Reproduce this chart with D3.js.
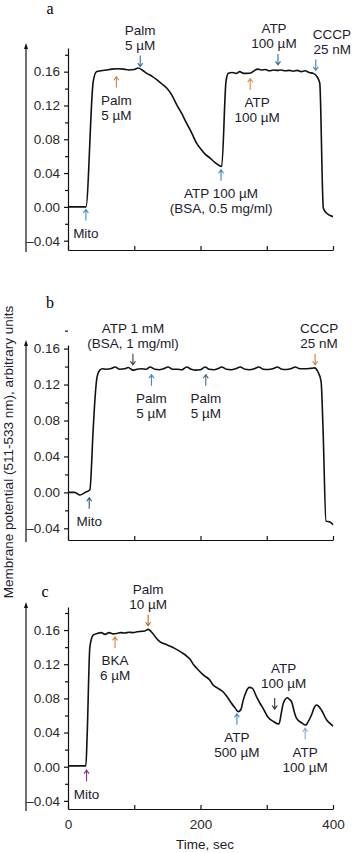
<!DOCTYPE html>
<html>
<head>
<meta charset="utf-8">
<title>Membrane potential traces</title>
<script src="https://cdnjs.cloudflare.com/ajax/libs/d3/7.8.5/d3.min.js"></script>
<style>
  body { margin: 0; background: #fff; }
  svg text { font-family: "Liberation Sans", Arial, sans-serif; }
</style>
</head>
<body>
<script>
// [time sec, membrane potential a.u.]
var traceA = [[0,0],[27,0],[38,0.148],[43,0.160],[50,0.161],[58,0.162],[66,0.163],[75,0.1635],[84,0.163],
  [92,0.162],[100,0.1625],[106,0.1644],[112,0.162],[119,0.158],[127,0.1545],[134,0.1505],[141,0.146],
  [149,0.1406],[157,0.132],[164,0.121],[172,0.110],[179,0.099],[187,0.087],[194,0.0755],[201,0.068],
  [207,0.0625],[214,0.058],[222,0.0525],[232,0.0478],[238.5,0.1485],[242,0.158],[248,0.159],[254,0.158],
  [259,0.160],[265,0.158],[271,0.158],[276,0.1585],[281,0.161],[286,0.163],[292,0.162],[298,0.1625],
  [304,0.161],[310,0.162],[316,0.1615],[322,0.162],[328,0.161],[334,0.1615],[340,0.1605],[346,0.1615],
  [352,0.160],[358,0.161],[364,0.159],[370,0.158],[375.5,0.1545],[380,0.1466],[385.4,-0.0016],
  [390.5,-0.0075],[400,-0.0115]];

var traceB = [[0,0],[10,0],[18,-0.003],[26,0],[33,0.003],[38,0.070],[41,0.107],[44,0.129],[48,0.136],
  [52,0.1375],[58,0.137],[64,0.1375],[71,0.1395],[78,0.137],[85,0.1375],[91,0.139],[98,0.136],[104,0.137],
  [111,0.1375],[118,0.137],[124,0.1395],[131,0.137],[138,0.1365],[144,0.1375],[151,0.1395],[158,0.137],
  [165,0.137],[172,0.1365],[179,0.1395],[186,0.137],[193,0.136],[200,0.1365],[207,0.1395],[213,0.137],
  [220,0.1365],[226,0.1375],[232,0.1395],[239,0.137],[246,0.1365],[253,0.1375],[260,0.1395],[267,0.137],
  [274,0.1365],[281,0.1375],[288,0.1395],[295,0.137],[302,0.1368],[309,0.1375],[316,0.1395],[323,0.137],
  [330,0.1368],[336,0.1375],[343,0.1395],[350,0.1375],[358,0.1375],[366,0.138],[372,0.1385],[377,0.1345],
  [382,0.1236],[385,0.070],[389.4,-0.032],[395.5,-0.033],[400,-0.036]];

var traceC = [[0,0.001],[27,0.001],[29,0.039],[33,0.140],[38,0.154],[44,0.156],[50,0.157],[56,0.155],
  [62,0.157],[68,0.1555],[74,0.156],[80,0.157],[86,0.1565],[92,0.1575],[98,0.157],[104,0.158],[110,0.1585],
  [116,0.159],[121,0.1608],[128,0.156],[135,0.149],[139,0.1463],[150,0.1425],[161,0.1386],[172,0.1335],
  [180,0.129],[184,0.126],[190,0.119],[197,0.113],[205,0.107],[214,0.1015],[219,0.0956],[226,0.092],
  [234,0.0878],[241,0.081],[247,0.074],[252,0.069],[257,0.0644],[261,0.067],[264.5,0.078],[269,0.088],
  [273.5,0.0929],[278,0.092],[284.5,0.082],[290,0.074],[294.5,0.0683],[302,0.0578],[310,0.053],
  [318.5,0.050],[322,0.063],[325,0.0742],[331,0.0808],[334,0.079],[337.5,0.076],[342,0.063],[345,0.0566],
  [352.5,0.0515],[359,0.0488],[362,0.052],[367.5,0.0605],[371,0.068],[375,0.0722],[378,0.071],
  [382.5,0.0664],[390.5,0.0547],[395,0.051],[400,0.0476]];

var yTicks = [-0.04, 0, 0.04, 0.08, 0.12, 0.16];
var yMinorTicks = [-0.02, 0.02, 0.06, 0.10, 0.14, 0.18];
var xTicks = [0, 100, 200, 300, 400];
var xTickLabels = [0, 200, 400];

// additions: time, signal at arrow tip, arrow direction, label lines
var notesA = [
  {t: 27, v: -0.003, dir: 'up', text: ['Mito']},
  {t: 73, v: 0.154, dir: 'up', text: ['Palm', '5 µM']},
  {t: 109, v: 0.166, dir: 'down', text: ['Palm', '5 µM']},
  {t: 231, v: 0.044, dir: 'up', text: ['ATP 100 µM', '(BSA, 0.5 mg/ml)']},
  {t: 275, v: 0.1517, dir: 'up', text: ['ATP', '100 µM']},
  {t: 317, v: 0.168, dir: 'down', text: ['ATP', '100 µM']},
  {t: 374, v: 0.1615, dir: 'down', text: ['CCCP', '25 nM']}
];
var notesB = [
  {t: 32, v: -0.006, dir: 'up', text: ['Mito']},
  {t: 98, v: 0.142, dir: 'down', text: ['ATP 1 mM', '(BSA, 1 mg/ml)']},
  {t: 126, v: 0.131, dir: 'up', text: ['Palm', '5 µM']},
  {t: 208, v: 0.131, dir: 'up', text: ['Palm', '5 µM']},
  {t: 373, v: 0.142, dir: 'down', text: ['CCCP', '25 nM']}
];
var notesC = [
  {t: 28, v: -0.004, dir: 'up', text: ['Mito']},
  {t: 71, v: 0.152, dir: 'up', text: ['BKA', '6 µM']},
  {t: 121, v: 0.165, dir: 'down', text: ['Palm', '10 µM']},
  {t: 255, v: 0.062, dir: 'up', text: ['ATP', '500 µM']},
  {t: 312, v: 0.0675, dir: 'down', text: ['ATP', '100 µM']},
  {t: 358, v: 0.045, dir: 'up', text: ['ATP', '100 µM']}
];

var arrowColorsA = ['#3d8fd0', '#d9813a', '#2f6fa8', '#3c86c4', '#e08a3c', '#2f6fa8', '#3b83c6'];
var arrowColorsB = ['#2a5a8a', '#4a3a30', '#3a8ac8', '#4a6a80', '#d4793a'];
var arrowColorsC = ['#8a2a8a', '#d9813a', '#b86a2a', '#3a8ad0', '#333333', '#7aaee0'];

var width = 352, height = 853;
var fontSize = '13.5px';
var svg = d3.select('body').append('svg')
  .attr('width', width)
  .attr('height', height);

var x = d3.scaleLinear().domain([0, 400]).range([68, 333]);

var panels = [
  {letter: 'a', lx: 50, ly: 14, trace: traceA, notes: notesA, colors: arrowColorsA,
   y: d3.scaleLinear().domain([-0.051, 0.188]).range([250, 48]), labels: false,
   nudge: {4: 7, 5: -4}},
  {letter: 'b', lx: 50, ly: 308, trace: traceB, notes: notesB, colors: arrowColorsB,
   y: d3.scaleLinear().domain([-0.053, 0.164]).range([540, 345]), labels: false,
   nudge: {4: 4}},
  {letter: 'c', lx: 45, ly: 597, trace: traceC, notes: notesC, colors: arrowColorsC,
   y: d3.scaleLinear().domain([-0.0495, 0.187]).range([809, 607]), labels: true,
   nudge: {4: 9}}
];

function fmt(d) {
  if (Math.abs(d) < 1e-9) return '0.00';
  return (d < 0 ? '\u2013' : '') + Math.abs(d).toFixed(2);
}

var line = d3.line()
  .x(function (d) { return x(d[0]); })
  .y(function (d) { return d[1]; })
  .curve(d3.curveMonotoneX);

panels.forEach(function (p) {
  var y = p.y;
  var bottom = y.range()[0], top = y.range()[1];
  var g = svg.append('g');

  g.append('text')
    .attr('x', p.lx).attr('y', p.ly)
    .attr('text-anchor', 'middle')
    .style('font-family', '"Liberation Serif", "Times New Roman", serif')
    .style('font-size', '16px')
    .text(p.letter);

  // long arrow left of the tick labels
  g.append('line')
    .attr('x1', 26).attr('x2', 26)
    .attr('y1', bottom + 2).attr('y2', top - 2)
    .attr('stroke', '#111').attr('stroke-width', 1.2);
  g.append('path')
    .attr('d', 'M26,' + (top - 5) + 'l-2,6h4z')
    .attr('fill', '#111');

  var yAxis = g.append('g')
    .attr('transform', 'translate(68,0)')
    .call(d3.axisLeft(y).tickValues(yTicks).tickFormat(fmt)
      .tickSizeInner(4).tickSizeOuter(0).tickPadding(4));
  g.append('g')
    .attr('transform', 'translate(68,0)')
    .call(d3.axisLeft(y).tickValues(yMinorTicks).tickFormat('')
      .tickSizeInner(3).tickSizeOuter(0))
    .select('.domain').remove();
  yAxis.selectAll('text').style('font-size', fontSize).attr('fill', '#2a2a2a');

  var xAxis = g.append('g')
    .attr('transform', 'translate(0,' + bottom + ')')
    .call(d3.axisBottom(x).tickValues(xTicks)
      .tickFormat(function (d) { return p.labels && xTickLabels.indexOf(d) >= 0 ? d : ''; })
      .tickSizeInner(-4).tickSizeOuter(0).tickPadding(10));
  xAxis.selectAll('text').style('font-size', fontSize).attr('fill', '#2a2a2a');

  g.selectAll('.domain, .tick line').attr('stroke', '#111').attr('stroke-width', 1.2);

  g.append('path')
    .datum(p.trace.map(function (d) { return [d[0], y(d[1])]; }))
    .attr('d', line)
    .attr('fill', 'none')
    .attr('stroke', '#111')
    .attr('stroke-width', 1.6)
    .attr('stroke-linejoin', 'round');

  p.notes.forEach(function (n, i) {
    var ax = x(n.t), tip = y(n.v), col = p.colors[i];
    var up = n.dir === 'up';
    var tail = up ? tip + 11 : tip - 11;
    var s = up ? 1 : -1;
    g.append('path')
      .attr('d', 'M' + ax + ',' + tail + 'V' + tip +
        'M' + (ax - 2.5) + ',' + (tip + s * 3.5) + 'L' + ax + ',' + tip + 'L' + (ax + 2.5) + ',' + (tip + s * 3.5))
      .attr('fill', 'none').attr('stroke', col).attr('stroke-width', 1.1);

    var tx = ax + (p.nudge[i] || 0);
    var anchor = 'middle';
    if (n.text[0] === 'CCCP' && p.letter === 'a') { tx = 351; anchor = 'end'; }
    var lines = n.text.length;
    n.text.forEach(function (s2, k) {
      var cy;
      if (up) cy = tip + 24 + k * 15;
      else cy = tip - 21 - (lines - 1 - k) * 15 - (p.letter === 'c' && i === 4 ? 5 : 0);
      g.append('text')
        .attr('x', tx).attr('y', cy + 4.5)
        .attr('text-anchor', anchor)
        .style('font-size', fontSize)
        .attr('fill', '#1c1c2c')
        .text(s2);
    });
  });
});

// shared labels
svg.append('text')
  .attr('transform', 'translate(13,452) rotate(-90)')
  .attr('text-anchor', 'middle')
  .style('font-size', fontSize)
  .attr('fill', '#1c1c2c')
  .text('Membrane potential (511-533 nm), arbitrary units');

svg.append('text')
  .attr('x', 205).attr('y', 849)
  .attr('text-anchor', 'middle')
  .style('font-size', fontSize)
  .attr('fill', '#1c1c2c')
  .text('Time, sec');
</script>
</body>
</html>
